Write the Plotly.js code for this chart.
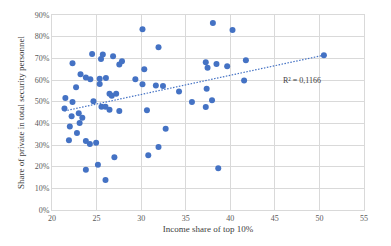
<!DOCTYPE html>
<html>
<head>
<meta charset="utf-8">
<script src="https://cdn.plot.ly/plotly-3.0.1.min.js"></script>
<style>
html,body{margin:0;padding:0;background:#fff;}
#chart{width:391px;height:246px;}
</style>
</head>
<body>
<div id="chart"></div>
<script>
// Income share of top 10% (x) and share of private in total security personnel (y, %)
const incomeShare = [21.4,21.5,21.9,22.0,22.2,22.3,22.3,22.7,22.8,23.0,23.1,23.2,23.4,23.8,23.8,23.8,24.3,24.25,24.5,24.65,24.95,25.15,25.35,25.35,25.5,25.55,25.7,26.0,26.0,26.05,26.45,26.45,26.7,26.85,27.0,27.2,27.55,27.55,27.85,29.35,30.15,30.15,30.35,30.65,30.8,31.65,31.95,31.95,32.45,32.75,34.25,35.7,37.25,37.25,37.35,37.45,37.95,38.05,38.45,38.65,39.65,40.25,41.55,41.75,50.5];
const privateShare = [46.8,51.7,32.2,38.5,43.3,49.8,67.7,56.7,35.5,44.6,40.1,62.7,42.6,61.1,31.9,18.6,60.3,30.5,72.0,50.2,31.0,20.9,60.6,58.1,69.7,47.6,71.8,47.7,13.9,60.9,46.3,53.6,52.7,71.0,24.4,53.7,45.7,67.1,68.7,60.3,83.4,58.0,65.0,46.0,25.3,57.5,75.1,29.1,57.2,37.5,54.7,49.8,68.2,47.5,56.0,65.7,50.6,86.3,67.4,19.3,66.3,83.1,59.8,69.1,71.4];
const xTicks = [20,25,30,35,40,45,50,55];
const yTicks = [0,10,20,30,40,50,60,70,80,90];
const yTickLabels = yTicks.map(v => v + '%');
const rSquaredLabel = 'R² = 0,1166';

// linear trend (least squares) computed from the data
const n = incomeShare.length;
const mx = incomeShare.reduce((a,b)=>a+b,0)/n;
const my = privateShare.reduce((a,b)=>a+b,0)/n;
let sxy=0, sxx=0;
for (let i=0;i<n;i++){ sxy += (incomeShare[i]-mx)*(privateShare[i]-my); sxx += (incomeShare[i]-mx)**2; }
const slope = sxy/sxx, icpt = my - slope*mx;
const xmin = Math.min(...incomeShare), xmax = Math.max(...incomeShare);
const trendX = [xmin, xmax];
const trendY = trendX.map(x => icpt + slope*x);

const font = {family: '"Liberation Serif", "Times New Roman", serif', size: 8, color: '#595959'};

Plotly.newPlot('chart', [
  {x: incomeShare, y: privateShare, type: 'scatter', mode: 'markers',
   marker: {color: '#4472C4', size: 6}, hoverinfo: 'skip'},
  {x: trendX, y: trendY, type: 'scatter', mode: 'lines',
   line: {color: '#4472C4', width: 1.2, dash: '1.5px,1.5px'}, hoverinfo: 'skip'}
], {
  width: 391, height: 246,
  margin: {l: 52, r: 27, t: 15, b: 36},
  paper_bgcolor: '#fff', plot_bgcolor: '#fff',
  showlegend: false,
  font: font,
  xaxis: {range: [20, 55], tickvals: xTicks, ticktext: xTicks.map(String),
    showgrid: true, gridcolor: '#d9d9d9', gridwidth: 1, zeroline: false,
    showline: true, linecolor: '#d9d9d9', mirror: true, ticks: '',
    tickfont: font, fixedrange: true,
    title: {text: 'Income share of top 10%', font: {family: font.family, size: 9, color: '#404040'}, standoff: 4}},
  yaxis: {range: [0, 90], tickvals: yTicks, ticktext: yTickLabels,
    showgrid: true, gridcolor: '#d9d9d9', gridwidth: 1, zeroline: false,
    showline: true, linecolor: '#d9d9d9', mirror: true, ticks: '',
    tickfont: font, fixedrange: true,
    title: {text: 'Share of private in total security personnel', font: {family: font.family, size: 9, color: '#404040'}, standoff: 8}},
  annotations: [{x: 48.05, y: 59.9, xref: 'x', yref: 'y', text: rSquaredLabel, showarrow: false,
    font: {family: font.family, size: 8, color: '#404040'}}]
}, {displayModeBar: false, staticPlot: true});
</script>
</body>
</html>
